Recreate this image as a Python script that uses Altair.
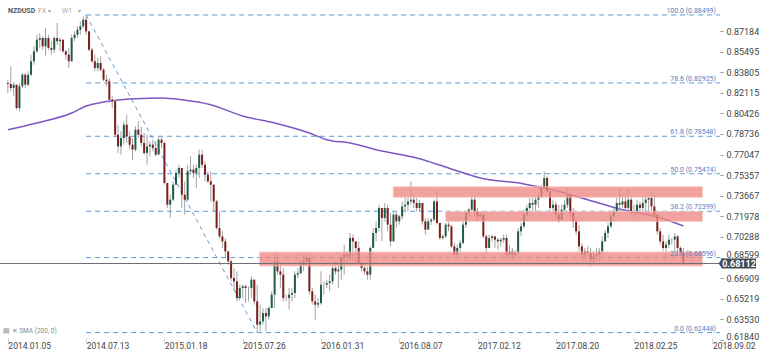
import altair as alt
import pandas as pd

# ---------------- data (weekly NZDUSD) ----------------
FIRST_OPEN = 0.8292
HIGH = [
0.8319,0.8429,0.8300,0.8265,0.8292,0.8374,0.8374,0.8388,0.8524,0.8593,
0.8688,0.8702,0.8675,0.8743,0.8688,0.8634,0.8675,0.8784,0.8661,0.8647,
0.8565,0.8579,0.8688,0.8716,0.8757,0.8798,0.8839,0.8850,0.8716,0.8579,
0.8524,0.8497,0.8511,0.8415,0.8360,0.8333,0.8183,0.8155,0.7950,0.7895,
0.7977,0.8032,0.7895,0.7841,0.7936,0.7977,0.7936,0.7882,0.7868,0.7813,
0.7827,0.7813,0.7854,0.7854,0.7813,0.7472,0.7376,0.7485,0.7581,0.7622,
0.7595,0.7485,0.7622,0.7690,0.7622,0.7622,0.7745,0.7745,0.7649,0.7567,
0.7567,0.7458,0.7335,0.7239,0.7075,0.7021,0.6911,0.6843,0.6774,0.6747,
0.6638,0.6638,0.6638,0.6624,0.6706,0.6679,0.6638,0.6474,0.6446,0.6446,
0.6460,0.6583,0.6898,0.6884,0.6802,0.6774,0.6556,0.6610,0.6610,0.6747,
0.6774,0.6829,0.6884,0.6884,0.6870,0.6610,0.6556,0.6528,0.6747,0.6665,
0.6679,0.6720,0.6802,0.6829,0.6802,0.6884,0.6966,0.6911,0.7062,0.7048,
0.6993,0.6993,0.6829,0.6802,0.6788,0.6952,0.7103,0.7157,0.7294,0.7212,
0.7308,0.7294,0.7226,0.7239,0.7239,0.7212,0.7321,0.7349,0.7349,0.7485,
0.7376,0.7349,0.7335,0.7294,0.7185,0.7185,0.7185,0.7335,0.7403,0.7144,
0.7048,0.7144,0.7157,0.7130,0.6980,0.6966,0.7007,0.7157,0.7239,0.7267,
0.7362,0.7376,0.7267,0.7239,0.7212,0.7048,0.7048,0.7048,0.7034,0.7021,
0.7021,0.7048,0.7048,0.6966,0.6939,0.6925,0.7103,0.7144,0.7253,0.7294,
0.7349,0.7349,0.7362,0.7390,0.7458,0.7567,0.7526,0.7417,0.7335,0.7321,
0.7294,0.7294,0.7335,0.7431,0.7321,0.7267,0.7185,0.7130,0.6980,0.6939,
0.6952,0.6939,0.6911,0.6939,0.6939,0.7034,0.7089,0.7144,0.7226,0.7267,
0.7349,0.7431,0.7376,0.7390,0.7417,0.7362,0.7294,0.7335,0.7321,0.7362,
0.7376,0.7362,0.7390,0.7376,0.7212,0.7103,0.7048,0.6993,0.7048,0.7021,
0.7062,0.7048,0.6952,0.6939]
LOW = [
0.8210,0.8224,0.8183,0.8073,0.8059,0.8251,0.8251,0.8265,0.8347,0.8442,
0.8538,0.8579,0.8565,0.8511,0.8565,0.8524,0.8538,0.8606,0.8552,0.8538,
0.8483,0.8415,0.8497,0.8634,0.8661,0.8688,0.8743,0.8688,0.8552,0.8456,
0.8388,0.8388,0.8388,0.8306,0.8265,0.8128,0.8087,0.7854,0.7718,0.7704,
0.7786,0.7800,0.7745,0.7663,0.7731,0.7841,0.7772,0.7704,0.7622,0.7690,
0.7731,0.7690,0.7704,0.7759,0.7458,0.7267,0.7185,0.7321,0.7458,0.7513,
0.7267,0.7212,0.7321,0.7540,0.7513,0.7431,0.7513,0.7595,0.7485,0.7472,
0.7321,0.7239,0.7089,0.7021,0.6939,0.6857,0.6802,0.6665,0.6583,0.6501,
0.6528,0.6528,0.6487,0.6501,0.6528,0.6474,0.6245,0.6255,0.6310,0.6255,
0.6351,0.6446,0.6446,0.6720,0.6610,0.6501,0.6501,0.6433,0.6501,0.6528,
0.6692,0.6720,0.6747,0.6802,0.6556,0.6474,0.6351,0.6446,0.6474,0.6556,
0.6610,0.6583,0.6638,0.6720,0.6610,0.6679,0.6720,0.6802,0.6829,0.6829,
0.6802,0.6802,0.6747,0.6720,0.6679,0.6679,0.6939,0.6993,0.7075,0.6993,
0.7157,0.7075,0.6952,0.7021,0.7103,0.7130,0.7171,0.7239,0.7239,0.7294,
0.7267,0.7239,0.7239,0.7130,0.7048,0.7089,0.7130,0.7157,0.7130,0.7007,
0.7007,0.7021,0.7075,0.6939,0.6870,0.6870,0.6911,0.6966,0.7103,0.7198,
0.7239,0.7198,0.7157,0.7185,0.7021,0.6898,0.6939,0.6993,0.6939,0.6925,
0.6952,0.6980,0.6857,0.6857,0.6829,0.6857,0.6898,0.7034,0.7103,0.7198,
0.7253,0.7239,0.7239,0.7267,0.7349,0.7403,0.7390,0.7226,0.7226,0.7185,
0.7144,0.7198,0.7239,0.7267,0.7185,0.7103,0.7048,0.6911,0.6857,0.6857,
0.6870,0.6788,0.6802,0.6829,0.6829,0.6884,0.6993,0.7021,0.7103,0.7157,
0.7226,0.7239,0.7267,0.7226,0.7239,0.7212,0.7198,0.7212,0.7212,0.7239,
0.7239,0.7226,0.7239,0.7198,0.7048,0.6966,0.6911,0.6857,0.6939,0.6966,
0.6911,0.6911,0.6870,0.6802]
CLOSE = [
0.8284,0.8251,0.8278,0.8087,0.8265,0.8360,0.8278,0.8360,0.8470,0.8552,
0.8647,0.8661,0.8593,0.8661,0.8579,0.8565,0.8661,0.8634,0.8647,0.8552,
0.8524,0.8470,0.8661,0.8688,0.8729,0.8757,0.8811,0.8716,0.8565,0.8470,
0.8415,0.8456,0.8401,0.8319,0.8306,0.8155,0.8142,0.7868,0.7772,0.7841,
0.7950,0.7854,0.7786,0.7745,0.7909,0.7868,0.7800,0.7718,0.7772,0.7786,
0.7759,0.7704,0.7827,0.7800,0.7472,0.7294,0.7335,0.7458,0.7554,0.7595,
0.7376,0.7335,0.7567,0.7581,0.7554,0.7595,0.7704,0.7622,0.7540,0.7485,
0.7458,0.7321,0.7103,0.7034,0.6993,0.6911,0.6829,0.6692,0.6665,0.6528,
0.6610,0.6624,0.6610,0.6610,0.6679,0.6501,0.6310,0.6337,0.6405,0.6378,
0.6446,0.6556,0.6829,0.6747,0.6720,0.6528,0.6528,0.6556,0.6569,0.6720,
0.6733,0.6802,0.6829,0.6857,0.6583,0.6501,0.6474,0.6487,0.6638,0.6638,
0.6651,0.6665,0.6774,0.6747,0.6761,0.6857,0.6884,0.6870,0.7021,0.6993,
0.6939,0.6816,0.6774,0.6747,0.6720,0.6939,0.7062,0.7103,0.7267,0.7185,
0.7267,0.7130,0.6993,0.7212,0.7157,0.7198,0.7280,0.7294,0.7321,0.7335,
0.7308,0.7267,0.7308,0.7157,0.7089,0.7157,0.7171,0.7321,0.7144,0.7021,
0.7034,0.7130,0.7116,0.6952,0.6884,0.6939,0.6980,0.7130,0.7226,0.7253,
0.7335,0.7239,0.7198,0.7212,0.7034,0.6939,0.7021,0.7034,0.7007,0.6993,
0.7007,0.7021,0.6884,0.6911,0.6884,0.6898,0.7075,0.7116,0.7212,0.7267,
0.7308,0.7294,0.7335,0.7362,0.7431,0.7513,0.7403,0.7267,0.7294,0.7212,
0.7171,0.7253,0.7294,0.7376,0.7226,0.7157,0.7075,0.6952,0.6884,0.6911,
0.6898,0.6843,0.6870,0.6884,0.6911,0.6993,0.7062,0.7116,0.7198,0.7239,
0.7308,0.7294,0.7321,0.7267,0.7335,0.7239,0.7239,0.7294,0.7267,0.7308,
0.7335,0.7349,0.7280,0.7212,0.7075,0.6993,0.6939,0.6966,0.7007,0.7007,
0.7034,0.6939,0.6898,0.68112]

# 200-period SMA sampled along the curve (week index, value)
SMA_WEEK = [0, 10, 22, 27, 33, 39, 44, 53, 60, 70, 81, 92, 104, 110, 118,
            129, 141, 152, 163, 178, 189, 200, 212, 223, 233]
SMA_VALUE = [0.7909, 0.7964, 0.8046, 0.8103, 0.8136, 0.8155, 0.8163, 0.8169,
             0.8155, 0.8114, 0.8021, 0.7964, 0.7882, 0.7827, 0.7800, 0.7734,
             0.7677, 0.7595, 0.7513, 0.7464, 0.7409, 0.7335, 0.7253, 0.7201,
             0.7119]

# Fibonacci retracement (from swing high week 27 to swing low week 86)
FIB_START_WEEK = 27
FIB_LOW_WEEK = 86
FIB_PRICE = [0.62448, 0.68596, 0.72399, 0.75474, 0.78548, 0.82925, 0.88499]
FIB_LABEL = ["0.0 (0.62448)", "23.6 (0.68596)", "38.2 (0.72399)", "50.0 (0.75474)",
             "61.8 (0.78548)", "78.6 (0.82925)", "100.0 (0.88499)"]

# support / resistance zones
ZONE_START = [86.8, 132.9, 151.0]
ZONE_END = [239.6, 239.6, 239.6]
ZONE_LO = [0.6791, 0.7354, 0.7156]
ZONE_HI = [0.6906, 0.7441, 0.7238]

LAST_PRICE = 0.68112

Y_TICKS = [0.87184, 0.85495, 0.83805, 0.82115, 0.80426, 0.78736, 0.77047, 0.75357,
           0.73667, 0.71978, 0.70288, 0.68599, 0.66909, 0.65219, 0.63530, 0.61840]
X_TICK_WEEKS = [0, 27, 54, 81, 108, 135, 162, 189, 216, 243]
X_TICK_LABELS = ["2014.01.05", "2014.07.13", "2015.01.18", "2015.07.26", "2016.01.31",
                 "2016.08.07", "2017.02.12", "2017.08.20", "2018.02.25", "2018.09.02"]

# ---------------- tables ----------------
n = len(CLOSE)
opens = [FIRST_OPEN] + CLOSE[:-1]
df = pd.DataFrame({"week": list(range(n)), "open": opens, "high": HIGH,
                   "low": LOW, "close": CLOSE})
df["high"] = df[["high", "open", "close"]].max(axis=1)
df["low"] = df[["low", "open", "close"]].min(axis=1)
df["dir"] = ["up" if c >= o else "down" for o, c in zip(df["open"], df["close"])]

sma = pd.DataFrame({"week": SMA_WEEK, "sma": SMA_VALUE})
fib = pd.DataFrame({"start": [FIB_START_WEEK] * len(FIB_PRICE), "price": FIB_PRICE,
                    "label": FIB_LABEL})
diag = pd.DataFrame({"week": [FIB_START_WEEK, FIB_LOW_WEEK],
                     "price": [FIB_PRICE[-1], FIB_PRICE[0]]})
zones = pd.DataFrame({"start": ZONE_START, "end": ZONE_END, "lo": ZONE_LO, "hi": ZONE_HI})
last = pd.DataFrame({"price": [LAST_PRICE], "txt": [f"{LAST_PRICE:.5f}"]})

FONT = "Roboto"
xs = alt.Scale(domain=[-0.986, 243.9], nice=False, zero=False)
ys = alt.Scale(domain=[0.60691, 0.89727], nice=False, zero=False)

label_arr = "[" + ",".join(f"'{s}'" for s in X_TICK_LABELS) + "]"
X_AX = alt.Axis(values=X_TICK_WEEKS, labelExpr=f"{label_arr}[round(datum.value/27)]",
                orient="bottom", offset=-16, domain=False, grid=False, tickSize=5,
                tickColor="#cfcfcf", labelAlign="left", labelBaseline="top",
                labelPadding=-2, labelFontSize=8.5, labelColor="#444444",
                labelFont=FONT, title=None, labelOverlap=False, labelFlush=False)
Y_AX = alt.Axis(values=Y_TICKS, format=".5f", orient="right", domain=False, grid=False,
                tickSize=3, tickColor="#9a9a9a", labelPadding=3, labelFontSize=9,
                labelColor="#444444", labelFont=FONT, title=None, labelOverlap=False,
                labelFlush=False,
                labelOffset={"condition": {"test": "datum.value < 0.62 || abs(datum.value - 0.68599) < 0.00001",
                                           "value": -3.5}, "value": 0})

def X(f):
    return alt.X(f, scale=xs, axis=X_AX)

def Y(f):
    return alt.Y(f, scale=ys, axis=Y_AX)

BLUE = "#5b9bd5"

fib_lines = alt.Chart(fib).mark_rule(color=BLUE, strokeWidth=1, strokeDash=[5, 4]).encode(
    x=X("start:Q"), x2=alt.value(720), y=Y("price:Q"))
diag_line = alt.Chart(diag).mark_line(color=BLUE, strokeWidth=1, strokeDash=[4, 4]).encode(
    x=X("week:Q"), y=Y("price:Q"))
sma_line = alt.Chart(sma).mark_line(color="#7e57c2", strokeWidth=1.5, interpolate="monotone").encode(
    x=X("week:Q"), y=Y("sma:Q"))
wicks = alt.Chart(df).mark_rule(color="#a3a3a3", strokeWidth=1).encode(
    x=X("week:Q"), y=Y("low:Q"), y2="high:Q")
bodies = alt.Chart(df).mark_bar(size=2).encode(
    x=X("week:Q"), y=Y("open:Q"), y2="close:Q",
    color=alt.Color("dir:N", scale=alt.Scale(domain=["up", "down"],
                                             range=["#1d5e49", "#7c1c1c"]), legend=None))
zone_rects = alt.Chart(zones).mark_rect(color="#ef8983", opacity=0.78, stroke="#f6c2bc",
                                        strokeWidth=1).encode(
    x=X("start:Q"), x2="end:Q", y=Y("lo:Q"), y2="hi:Q")
price_line = alt.Chart(last).mark_rule(color="#6b6f75", strokeWidth=1).encode(
    x=alt.value(0), x2=alt.value(720), y=Y("price:Q"))
fib_text = alt.Chart(fib).mark_text(align="right", baseline="bottom", dy=-1, fontSize=7,
                                    color="#4a86c5", font=FONT).encode(
    x=alt.value(716), y=Y("price:Q"), text="label:N")
box = alt.Chart(last).mark_point(
    shape="M-1.2,0 L-1,-0.3 L1,-0.3 L1,0.3 L-1,0.3 Z", size=1156, filled=True,
    color="#434c56", opacity=1, strokeWidth=0).encode(x=alt.value(739), y=Y("price:Q"))
box_text = alt.Chart(last).mark_text(color="white", fontSize=9, font=FONT,
                                     fontWeight="bold").encode(
    x=alt.value(739), y=Y("price:Q"), text="txt:N")

one = pd.DataFrame({"a": [0]})
def label(txt, x, y, size=7, color="#a8a8a8", weight="normal"):
    return alt.Chart(one).mark_text(text=txt, align="left", fontSize=size, fontWeight=weight,
                                    color=color, font=FONT).encode(x=alt.value(x), y=alt.value(y))

head = [
    label("NZDUSD", 8, 11, size=7, color="#555555", weight="bold"),
    label("FX", 38, 11),
    label("\u25BE", 48, 11, size=6),
    label("W1", 62, 11),
    label("\u25BE", 78, 11, size=6),
    label("\u25A4 \u2715 SMA (200, 0)", 3, 331, size=6.5, color="#8a8a8a"),
]

chart = alt.layer(
    fib_lines, diag_line, sma_line, wicks, bodies, zone_rects, price_line,
    fib_text, box, box_text, *head
).properties(
    width=720, height=354,
    autosize=alt.AutoSizeParams(type="none"),
    padding={"left": 0, "top": 0, "right": 40, "bottom": 0},
    background="white",
).configure_view(stroke=None)

chart.save("out.html", embed_options={"renderer": "svg", "actions": False})
